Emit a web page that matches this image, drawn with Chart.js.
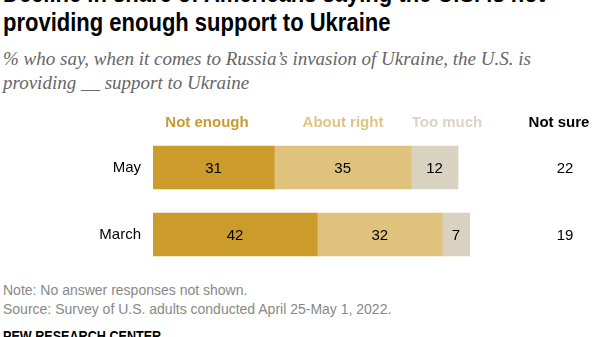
<!DOCTYPE html>
<html>
<head>
<meta charset="utf-8">
<script src="https://cdn.jsdelivr.net/npm/chart.js@4"></script>
<style>
  body { margin: 0; width: 600px; height: 337px; overflow: hidden; background: #fff; position: relative; }
  .title { position: absolute; left: 3px; top: -21px; font: bold 25px/29px "Liberation Sans", sans-serif; color: #000; white-space: nowrap; transform: scaleX(0.88); transform-origin: 0 0; }
  .subtitle { position: absolute; left: 3px; top: 47px; font: italic 19px/24px "Liberation Serif", serif; color: #666; white-space: nowrap; }
  .notes { position: absolute; left: 3px; top: 281px; font: 14px/19px "Liberation Sans", sans-serif; color: #888; white-space: nowrap; }
  .brand { position: absolute; left: 3px; top: 328px; font: bold 14px "Liberation Sans", sans-serif; color: #000; transform: scaleX(0.9); transform-origin: 0 0; }
  #chart { position: absolute; left: 0; top: 100px; }
</style>
</head>
<body>
<div class="title">Decline in share of Americans saying the U.S. is not<br>providing enough support to Ukraine</div>
<div class="subtitle">% who say, when it comes to Russia’s invasion of Ukraine, the U.S. is<br>providing __ support to Ukraine</div>
<div class="notes">Note: No answer responses not shown.<br>Source: Survey of U.S. adults conducted April 25-May 1, 2022.</div>
<div class="brand">PEW RESEARCH CENTER</div>
<canvas id="chart" width="600" height="181"></canvas>
<script>
const months = ["May", "March"];
const notEnough = [31, 42];
const aboutRight = [35, 32];
const tooMuch = [12, 7];
const notSure = [22, 19];
const seriesNames = ["Not enough", "About right", "Too much", "Not sure"];

const colors = ["#CB9C2C", "#DFC37C", "#D9D2C0"];
const headerColors = ["#C99A2E", "#E0C582", "#DAD4C6", "#000000"];
const headerX = [207, 343, 447, 559];

// bar values, column headers and the separate "Not sure" column
const labelPlugin = {
  id: "labels",
  afterDatasetsDraw(chart) {
    const ctx = chart.ctx;
    ctx.save();
    ctx.textAlign = "center";
    ctx.textBaseline = "middle";
    ctx.font = "bold 15px 'Liberation Sans', Arial, sans-serif";
    seriesNames.forEach((name, i) => {
      ctx.fillStyle = headerColors[i];
      ctx.fillText(name, headerX[i], 23);
    });
    ctx.font = "15px 'Liberation Sans', Arial, sans-serif";
    ctx.fillStyle = "#000";
    chart.data.datasets.forEach((ds, i) => {
      chart.getDatasetMeta(i).data.forEach((bar, j) => {
        const cx = (bar.base + bar.x) / 2;
        ctx.fillText(ds.data[j], cx, bar.y + 1);
      });
    });
    const meta = chart.getDatasetMeta(0);
    notSure.forEach((v, j) => {
      ctx.fillText(v, 565, meta.data[j].y + 1);
    });
    ctx.restore();
  }
};

new Chart(document.getElementById("chart"), {
  type: "bar",
  data: {
    labels: months,
    datasets: [
      { label: seriesNames[0], data: notEnough, backgroundColor: colors[0] },
      { label: seriesNames[1], data: aboutRight, backgroundColor: colors[1] },
      { label: seriesNames[2], data: tooMuch, backgroundColor: colors[2] }
    ]
  },
  options: {
    indexAxis: "y",
    responsive: false,
    animation: false,
    layout: { padding: { left: 0, right: 56, top: 34, bottom: 4 } },
    datasets: { bar: { barThickness: 43, borderWidth: 0 } },
    scales: {
      x: { stacked: true, min: 0, max: 100, display: false },
      y: {
        stacked: true,
        border: { display: false },
        grid: { display: false },
        afterFit(axis) { axis.width = 153; },
        ticks: { color: "#000", padding: 4, font: { family: "'Liberation Sans', Arial, sans-serif", size: 15 } }
      }
    },
    plugins: { legend: { display: false }, tooltip: { enabled: false } }
  },
  plugins: [labelPlugin]
});
</script>
</body>
</html>
